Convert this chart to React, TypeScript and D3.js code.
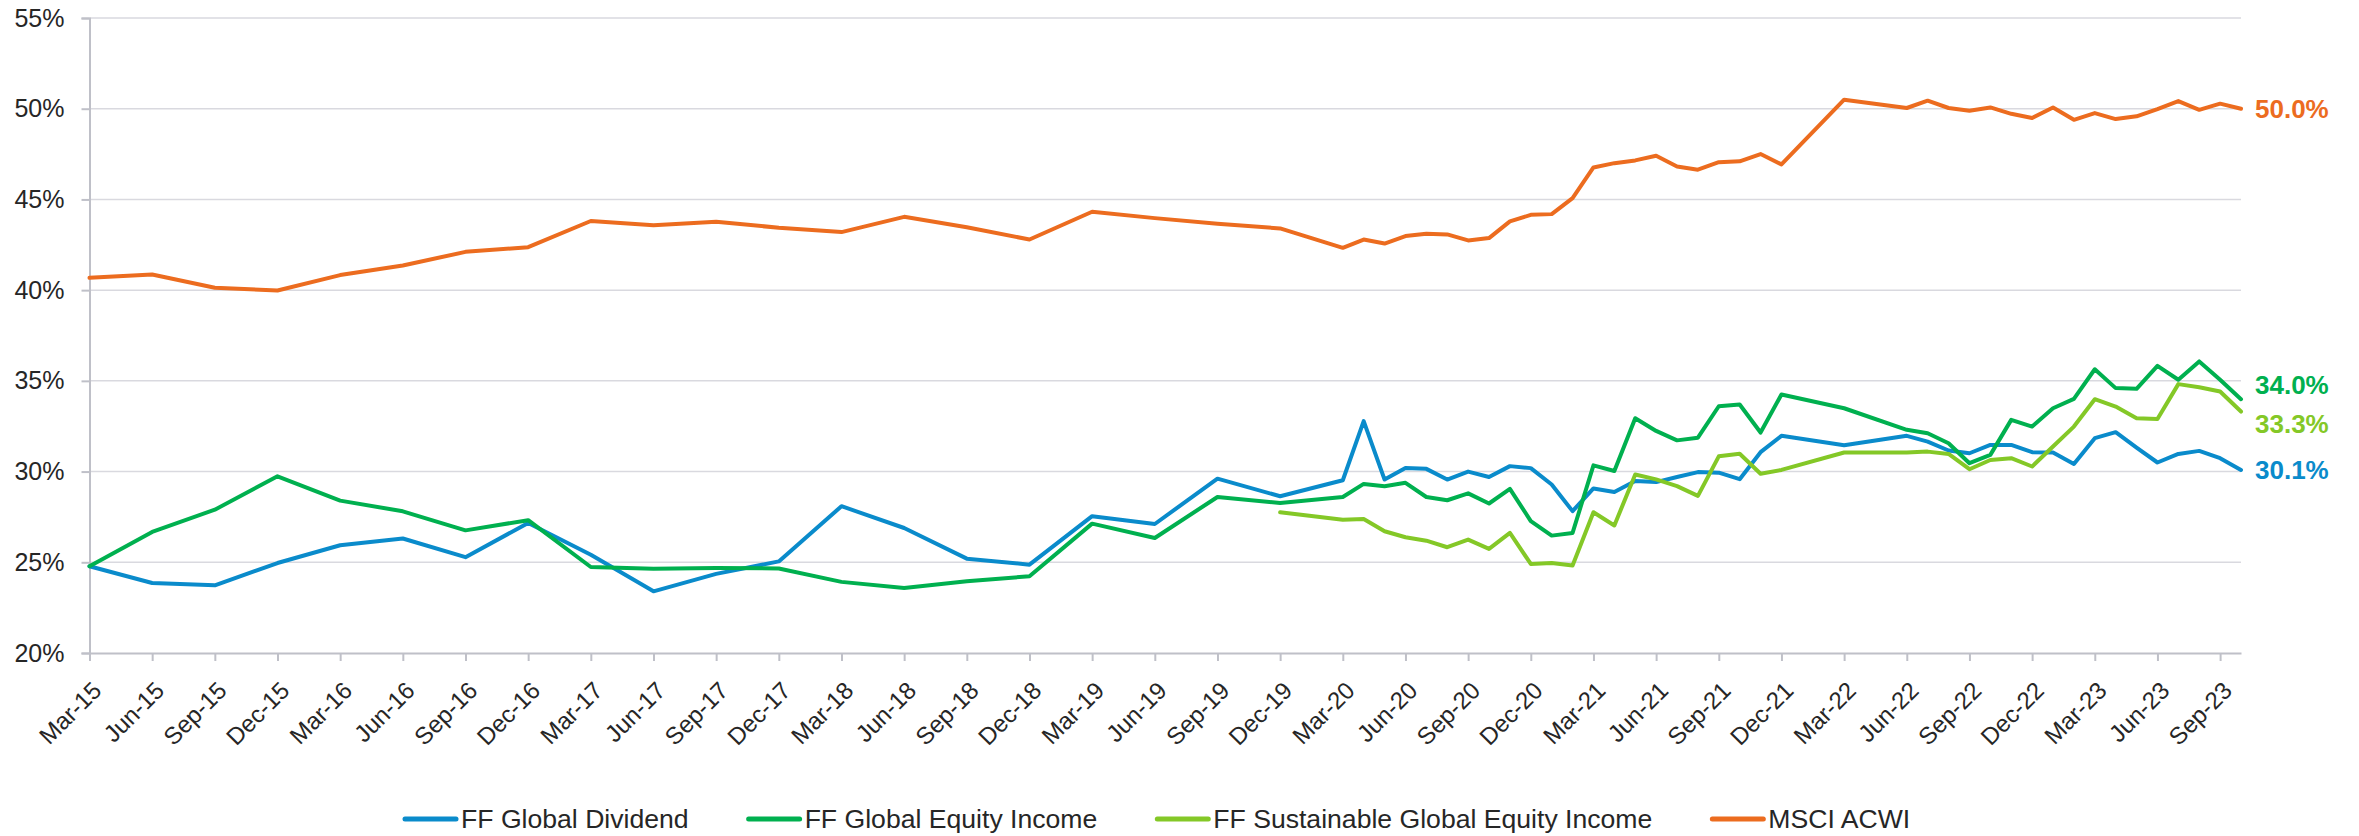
import React, { useEffect, useRef } from "react";
import * as d3 from "d3";

// observation dates (quarterly to Dec-19, then monthly with a gap in early 2022)
const dates = [
  "Mar-15", "Jun-15", "Sep-15", "Dec-15", "Mar-16", "Jun-16", "Sep-16", "Dec-16",
  "Mar-17", "Jun-17", "Sep-17", "Dec-17", "Mar-18", "Jun-18", "Sep-18", "Dec-18",
  "Mar-19", "Jun-19", "Sep-19", "Dec-19",
  "Mar-20", "Apr-20", "May-20", "Jun-20", "Jul-20", "Aug-20", "Sep-20", "Oct-20",
  "Nov-20", "Dec-20", "Jan-21", "Feb-21", "Mar-21", "Apr-21", "May-21", "Jun-21",
  "Jul-21", "Aug-21", "Sep-21", "Oct-21", "Nov-21", "Dec-21",
  "Mar-22", "Jun-22",
  "Jul-22", "Aug-22", "Sep-22", "Oct-22", "Nov-22", "Dec-22", "Jan-23", "Feb-23",
  "Mar-23", "Apr-23", "May-23", "Jun-23", "Jul-23", "Aug-23", "Sep-23", "Oct-23",
];

const globalDividend = [
  24.78, 23.86, 23.73, 24.96, 25.94, 26.31, 25.28, 27.17,
  25.42, 23.4, 24.36, 25.05, 28.09, 26.89, 25.2, 24.87,
  27.54, 27.11, 29.61, 28.64,
  29.52, 32.78, 29.56, 30.2, 30.15, 29.56, 30.0, 29.7,
  30.3, 30.19, 29.29, 27.82, 29.07, 28.87, 29.48, 29.42,
  29.7, 29.97, 29.94, 29.58, 31.07, 31.97,
  31.45, 31.97,
  31.65, 31.16, 31.01, 31.47, 31.47, 31.07, 31.05, 30.42,
  31.84, 32.17, 31.32, 30.5, 30.97, 31.14, 30.74, 30.09,
];

const globalEquityIncome = [
  24.78, 26.67, 27.9, 29.74, 28.4, 27.81, 26.76, 27.32,
  24.74, 24.65, 24.69, 24.66, 23.92, 23.58, 23.95, 24.23,
  27.13, 26.34, 28.6, 28.27,
  28.6, 29.32, 29.19, 29.38, 28.6, 28.42, 28.8, 28.24,
  29.05, 27.27, 26.47, 26.62, 30.34, 30.03, 32.94, 32.24,
  31.72, 31.87, 33.6, 33.7, 32.15, 34.25,
  33.49, 32.3,
  32.11, 31.56, 30.46, 30.92, 32.85, 32.48, 33.49, 34.01,
  35.64, 34.6, 34.56, 35.83, 35.06, 36.07, 35.06, 33.99,
];

const sustainableEquityIncome = [
  null, null, null, null, null, null, null, null,
  null, null, null, null, null, null, null, null,
  null, null, null, 27.76,
  27.35, 27.39, 26.71, 26.38, 26.19, 25.83, 26.25, 25.74,
  26.62, 24.91, 24.96, 24.82, 27.76, 27.03, 29.84, 29.57,
  29.2, 28.66, 30.84, 30.98, 29.88, 30.09,
  31.05, 31.05,
  31.1, 30.97, 30.13, 30.64, 30.74, 30.28, 31.38, 32.48,
  33.99, 33.58, 32.94, 32.9, 34.82, 34.65, 34.41, 33.31,
];

const msciAcwi = [
  40.68, 40.86, 40.13, 39.98, 40.83, 41.36, 42.11, 42.37,
  43.81, 43.58, 43.77, 43.44, 43.2, 44.04, 43.47, 42.79,
  44.32, 43.97, 43.66, 43.4,
  42.33, 42.79, 42.57, 42.98, 43.11, 43.07, 42.74, 42.87,
  43.79, 44.15, 44.19, 45.07, 46.76, 47.0, 47.15, 47.41,
  46.82, 46.64, 47.05, 47.1, 47.5, 46.93,
  50.5, 50.04,
  50.44, 50.04, 49.89, 50.07, 49.72, 49.49, 50.07, 49.39,
  49.76, 49.43, 49.58, 49.98, 50.42, 49.94, 50.28, 50.0,
];

const seriesNames = [
  "FF Global Dividend",
  "FF Global Equity Income",
  "FF Sustainable Global Equity Income",
  "MSCI ACWI",
];
const seriesColors = ["#0a8bcb", "#00b04f", "#84c827", "#ec6c1f"];
const endLabels = ["30.1%", "34.0%", "33.3%", "50.0%"];
const endLabelShift = [0, -14, 12, 0];
const yTicks = [20, 25, 30, 35, 40, 45, 50, 55];

const W = 2359;
const H = 836;
const FONT = "'Liberation Sans', Arial, sans-serif";

const App = () => {
  const ref = useRef(null);

  useEffect(() => {
    const svg = d3.select(ref.current);
    svg.selectAll("*").remove();

    const margin = { left: 89.5, right: 2241, top: 18, bottom: 653 };
    const parse = d3.timeParse("%b-%y");
    const start = parse(dates[0]);
    const end = parse(dates[dates.length - 1]);
    const monthIdx = (d) => d3.timeMonth.count(start, d);

    const x = d3
      .scaleLinear()
      .domain([0, monthIdx(end)])
      .range([margin.left, margin.right]);
    const y = d3
      .scaleLinear()
      .domain([20, 55])
      .range([margin.bottom, margin.top]);

    // gridlines
    svg
      .append("g")
      .selectAll("line")
      .data(yTicks.filter((t) => t !== 20))
      .join("line")
      .attr("x1", margin.left)
      .attr("x2", margin.right)
      .attr("y1", (d) => y(d))
      .attr("y2", (d) => y(d))
      .attr("stroke", "#d9d9df")
      .attr("stroke-width", 1.5);

    // y axis
    const yAxis = svg
      .append("g")
      .attr("transform", `translate(${margin.left},0)`)
      .call(
        d3
          .axisLeft(y)
          .tickValues(yTicks)
          .tickSize(8)
          .tickPadding(17)
          .tickFormat((d) => d + "%")
      );
    yAxis.select(".domain").attr("stroke", "#bfc0c8").attr("stroke-width", 2);
    yAxis.selectAll(".tick line").attr("stroke", "#bfc0c8").attr("stroke-width", 2);
    yAxis
      .selectAll(".tick text")
      .attr("fill", "#262626")
      .style("font-family", FONT)
      .style("font-size", "25px");

    // x axis: quarterly ticks
    const tickDates = d3.timeMonths(start, d3.timeMonth.offset(end, 1), 3);
    const fmt = d3.timeFormat("%b-%y");
    const xAxis = svg
      .append("g")
      .attr("transform", `translate(0,${margin.bottom})`)
      .call(
        d3
          .axisBottom(x)
          .tickValues(tickDates.map(monthIdx))
          .tickSize(8)
          .tickSizeOuter(0)
          .tickFormat((d, i) => fmt(tickDates[i]))
      );
    xAxis.select(".domain").attr("stroke", "#bfc0c8").attr("stroke-width", 2);
    xAxis.selectAll(".tick line").attr("stroke", "#bfc0c8").attr("stroke-width", 2);
    xAxis
      .selectAll(".tick text")
      .attr("x", 0)
      .attr("y", 0)
      .attr("dy", "0.35em")
      .attr("text-anchor", "end")
      .attr("transform", "translate(7,33) rotate(-45)")
      .attr("fill", "#262626")
      .style("font-family", FONT)
      .style("font-size", "24px");

    // lines
    const allSeries = [globalDividend, globalEquityIncome, sustainableEquityIncome, msciAcwi];
    const line = d3
      .line()
      .defined((d) => d.v != null)
      .x((d) => x(d.m))
      .y((d) => y(d.v));

    allSeries.forEach((vals, i) => {
      const pts = vals.map((v, j) => ({ m: monthIdx(parse(dates[j])), v }));
      svg
        .append("path")
        .datum(pts)
        .attr("d", line)
        .attr("fill", "none")
        .attr("stroke", seriesColors[i])
        .attr("stroke-width", 4)
        .attr("stroke-linejoin", "round")
        .attr("stroke-linecap", "round");

      const last = pts[pts.length - 1];
      svg
        .append("text")
        .attr("x", margin.right + 14)
        .attr("y", y(last.v) + endLabelShift[i])
        .attr("dy", "0.35em")
        .attr("fill", seriesColors[i])
        .style("font-family", FONT)
        .style("font-size", "26px")
        .style("font-weight", "bold")
        .text(endLabels[i]);
    });

    // legend
    const legend = svg.append("g").attr("transform", "translate(0,819)");
    let lx = 403;
    seriesNames.forEach((name, i) => {
      const g = legend.append("g").attr("transform", `translate(${lx},0)`);
      g.append("line")
        .attr("x1", 2)
        .attr("x2", 53)
        .attr("stroke", seriesColors[i])
        .attr("stroke-width", 5)
        .attr("stroke-linecap", "round");
      const t = g
        .append("text")
        .attr("x", 58)
        .attr("dy", "0.35em")
        .attr("fill", "#262626")
        .style("font-family", FONT)
        .style("font-size", "26.6px")
        .text(name);
      lx += 58 + t.node().getComputedTextLength() + 58;
    });
  }, []);

  return (
    <div>
      <style>{`body{margin:0;overflow:hidden;background:#fff}`}</style>
      <svg ref={ref} width={W} height={H} style={{ display: "block" }} />
    </div>
  );
};

export default App;
